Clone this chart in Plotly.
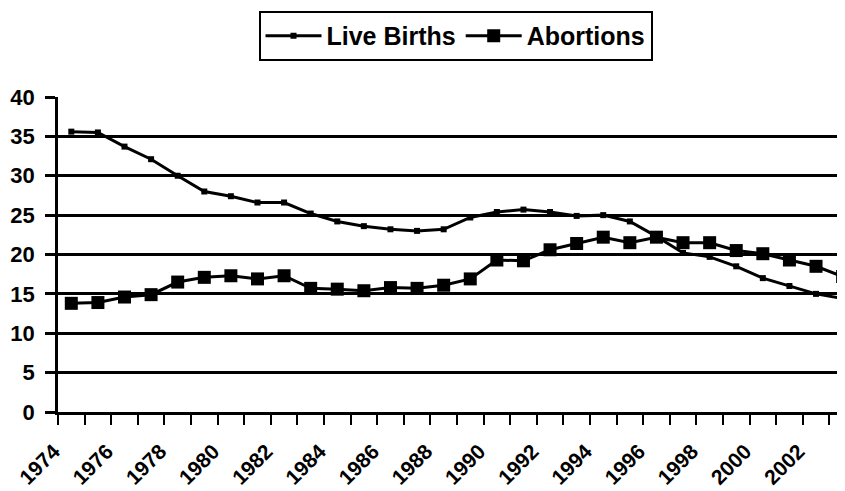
import plotly.graph_objects as go

years = list(range(1974, 2004))
live_births = [35.6, 35.5, 33.7, 32.1, 30.0, 28.0, 27.4, 26.6, 26.6, 25.2,
               24.2, 23.6, 23.2, 23.0, 23.2, 24.7, 25.4, 25.7, 25.4, 24.9,
               25.0, 24.2, 22.3, 20.2, 19.7, 18.5, 17.0, 16.0, 15.0, 14.4]
abortions = [13.8, 13.9, 14.6, 14.9, 16.5, 17.1, 17.3, 16.9, 17.3, 15.7,
             15.6, 15.4, 15.8, 15.7, 16.1, 16.9, 19.3, 19.2, 20.6, 21.4,
             22.2, 21.5, 22.2, 21.5, 21.5, 20.5, 20.1, 19.3, 18.5, 17.2]
y_ticks = [0, 5, 10, 15, 20, 25, 30, 35, 40]

# category-style axis: ticks between categories, labels every other year
tick_pos = [y - 0.5 for y in years] + [years[-1] + 0.5]
tick_txt = [(str(y) + "\u00a0") if (y - years[0]) % 2 == 0 else "" for y in years] + [""]

FONT = "Liberation Sans, Arial, sans-serif"

fig = go.Figure()
fig.add_trace(go.Scatter(
    x=years, y=live_births, name="<b>Live Births</b>", mode="lines+markers",
    line=dict(color="black", width=3),
    marker=dict(symbol="square", size=6, color="black"),
))
fig.add_trace(go.Scatter(
    x=years, y=abortions, name="<b>Abortions</b>", mode="lines+markers",
    line=dict(color="black", width=3),
    marker=dict(symbol="square", size=13, color="black"),
))

fig.update_layout(
    width=845, height=491,
    margin=dict(l=50, r=0, t=89, b=87, autoexpand=False),
    paper_bgcolor="white", plot_bgcolor="white",
    font=dict(family=FONT, color="black"),
    showlegend=True,
    legend=dict(
        orientation="h", x=0.5, xanchor="center", y=1.194, yanchor="middle",
        bordercolor="black", borderwidth=2, bgcolor="white",
        font=dict(size=25, family=FONT, color="black"),
        itemwidth=56, tracegroupgap=0,
    ),
    xaxis=dict(
        range=[1973.5, 2003.39], automargin=False,
        tickmode="array", tickvals=tick_pos, ticktext=tick_txt,
        tickangle=-45, ticks="outside", ticklen=10, tickwidth=2, tickcolor="black",
        showgrid=False, zeroline=False,
        showline=True, linecolor="black", linewidth=2.5,
        tickfont=dict(size=21, family=FONT, color="black", weight="bold"),
        ticklabelstandoff=2,
    ),
    yaxis=dict(
        range=[0, 40], tickmode="array", tickvals=y_ticks, automargin=False,
        ticks="outside", ticklen=10, tickwidth=2.5, tickcolor="black",
        showgrid=True, gridcolor="black", gridwidth=2.5,
        zeroline=False, showline=True, linecolor="black", linewidth=2.5,
        tickfont=dict(size=22, family=FONT, color="black", weight="bold"),
        ticklabelstandoff=6,
    ),
)

fig.write_html("out.html")
